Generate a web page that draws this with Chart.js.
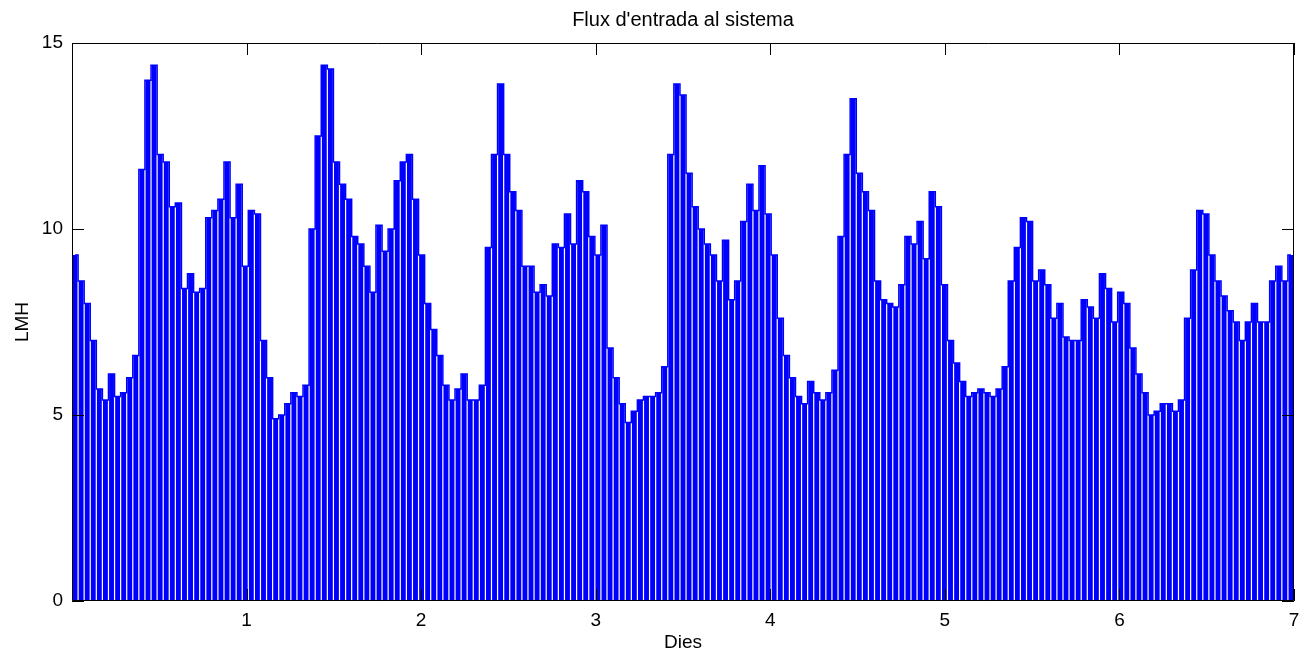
<!DOCTYPE html>
<html><head><meta charset="utf-8">
<script src="https://cdn.jsdelivr.net/npm/chart.js@4/dist/chart.umd.min.js"></script>
<style>html,body{margin:0;padding:0;background:#fff}#wrap{width:1301px;height:655px;position:relative}</style>
</head><body><div id="wrap"><canvas id="c" width="1301" height="655"></canvas></div>
<script>
const TITLE = "Flux d'entrada al sistema";
const X_LABEL = "Dies";
const Y_LABEL = "LMH";
const X_TICKS = [1, 2, 3, 4, 5, 6, 7];
const Y_TICKS = [0, 5, 10, 15];
const DAYS = 7;
// envelope flux (LMH) of each filtration cycle
const flux = [
  9.3, 8.6, 8.0, 7.0, 5.7, 5.4, 6.1, 5.5, 5.6, 6.0,
  6.6, 11.6, 14.0, 14.4, 12.0, 11.8, 10.6, 10.7, 8.4, 8.8,
  8.3, 8.4, 10.3, 10.5, 10.8, 11.8, 10.3, 11.2, 9.0, 10.5,
  10.4, 7.0, 6.0, 4.9, 5.0, 5.3, 5.6, 5.5, 5.8, 10.0,
  12.5, 14.4, 14.3, 11.8, 11.2, 10.8, 9.8, 9.6, 9.0, 8.3,
  10.1, 9.4, 10.0, 11.3, 11.8, 12.0, 10.8, 9.3, 8.0, 7.3,
  6.6, 5.8, 5.4, 5.7, 6.1, 5.4, 5.4, 5.8, 9.5, 12.0,
  13.9, 12.0, 11.0, 10.5, 9.0, 9.0, 8.3, 8.5, 8.2, 9.6,
  9.5, 10.4, 9.6, 11.3, 11.0, 9.8, 9.3, 10.1, 6.8, 6.0,
  5.3, 4.8, 5.1, 5.4, 5.5, 5.5, 5.6, 6.3, 12.0, 13.9,
  13.6, 11.5, 10.6, 10.0, 9.6, 9.3, 8.6, 9.7, 8.1, 8.6,
  10.2, 11.2, 10.5, 11.7, 10.4, 9.3, 7.6, 6.6, 6.0, 5.5,
  5.3, 5.9, 5.6, 5.4, 5.6, 6.2, 9.8, 12.0, 13.5, 11.5,
  11.0, 10.5, 8.6, 8.1, 8.0, 7.9, 8.5, 9.8, 9.6, 10.2,
  9.2, 11.0, 10.6, 8.5, 7.0, 6.4, 5.9, 5.5, 5.6, 5.7,
  5.6, 5.5, 5.7, 6.3, 8.6, 9.5, 10.3, 10.2, 8.6, 8.9,
  8.5, 7.6, 8.0, 7.1, 7.0, 7.0, 8.1, 7.9, 7.6, 8.8,
  8.4, 7.5, 8.3, 8.0, 6.8, 6.1, 5.6, 5.0, 5.1, 5.3,
  5.3, 5.1, 5.4, 7.6, 8.9, 10.5, 10.4, 9.3, 8.6, 8.2,
  7.8, 7.5, 7.0, 7.5, 8.0, 7.5, 7.5, 8.6, 9.0, 8.6,
  9.3
];

const FONT = "'Liberation Sans', Arial, sans-serif";
const BLUE = '#0000ff';

const points = flux.map((v, i) => ({ x: (i + 0.5) * DAYS / flux.length, y: v }));

const frame = {
  id: 'frame',
  afterDatasetsDraw(chart) {
    const { ctx, chartArea: a, scales } = chart;
    ctx.save();
    ctx.strokeStyle = '#000';
    ctx.lineWidth = 1;
    ctx.beginPath();
    ctx.rect(a.left + 0.5, a.top + 0.5, a.right - a.left - 1, a.bottom - a.top - 1);
    const L = 12;
    X_TICKS.forEach(v => {
      const px = Math.round(scales.x.getPixelForValue(v)) + 0.5;
      ctx.moveTo(px, a.bottom); ctx.lineTo(px, a.bottom - L);
      ctx.moveTo(px, a.top); ctx.lineTo(px, a.top + L);
    });
    Y_TICKS.forEach(v => {
      const py = Math.round(scales.y.getPixelForValue(v)) + 0.5;
      ctx.moveTo(a.left, py); ctx.lineTo(a.left + L, py);
      ctx.moveTo(a.right, py); ctx.lineTo(a.right - L, py);
    });
    ctx.stroke();
    // title centred over the plot area
    ctx.fillStyle = '#000';
    ctx.font = '20px ' + FONT;
    ctx.textAlign = 'center';
    ctx.textBaseline = 'middle';
    ctx.fillText(TITLE, (a.left + a.right) / 2, 20);
    ctx.restore();
  }
};

new Chart(document.getElementById('c'), {
  type: 'bar',
  data: {
    datasets: [{
      type: 'line',
      data: points,
      borderColor: BLUE,
      borderWidth: 1.5,
      stepped: 'middle',
      pointRadius: 0,
      fill: false,
      clip: 0
    }, {
      data: points,
      backgroundColor: BLUE,
      borderWidth: 0,
      barPercentage: 0.8,
      categoryPercentage: 1
    }]
  },
  options: {
    responsive: false,
    animation: false,
    layout: { padding: { left: 0, right: 0, top: 43, bottom: 0 } },
    plugins: {
      legend: { display: false },
      tooltip: { enabled: false },
      title: { display: false }
    },
    scales: {
      x: {
        type: 'linear', min: 0, max: DAYS, offset: false,
        afterBuildTicks: s => { s.ticks = X_TICKS.map(v => ({ value: v })); },
        grid: { display: false, drawTicks: false, offset: false },
        border: { display: false },
        ticks: { color: '#000', font: { family: FONT, size: 19 }, padding: 8, maxRotation: 0, autoSkip: false },
        title: { display: true, text: X_LABEL, color: '#000', font: { family: FONT, size: 19 }, padding: { top: 0, bottom: 1 } },
        afterFit: s => { s.height = 54; s.paddingRight = 7; }
      },
      y: {
        min: 0, max: 15,
        afterBuildTicks: s => { s.ticks = Y_TICKS.map(v => ({ value: v })); },
        grid: { display: false, drawTicks: false },
        border: { display: false },
        ticks: { color: '#000', font: { family: FONT, size: 19 }, padding: 9 },
        title: { display: true, text: Y_LABEL, color: '#000', font: { family: FONT, size: 19 }, padding: { top: 11, bottom: 0 } },
        afterFit: s => { s.width = 72; }
      }
    }
  },
  plugins: [frame]
});
</script>
</body></html>
